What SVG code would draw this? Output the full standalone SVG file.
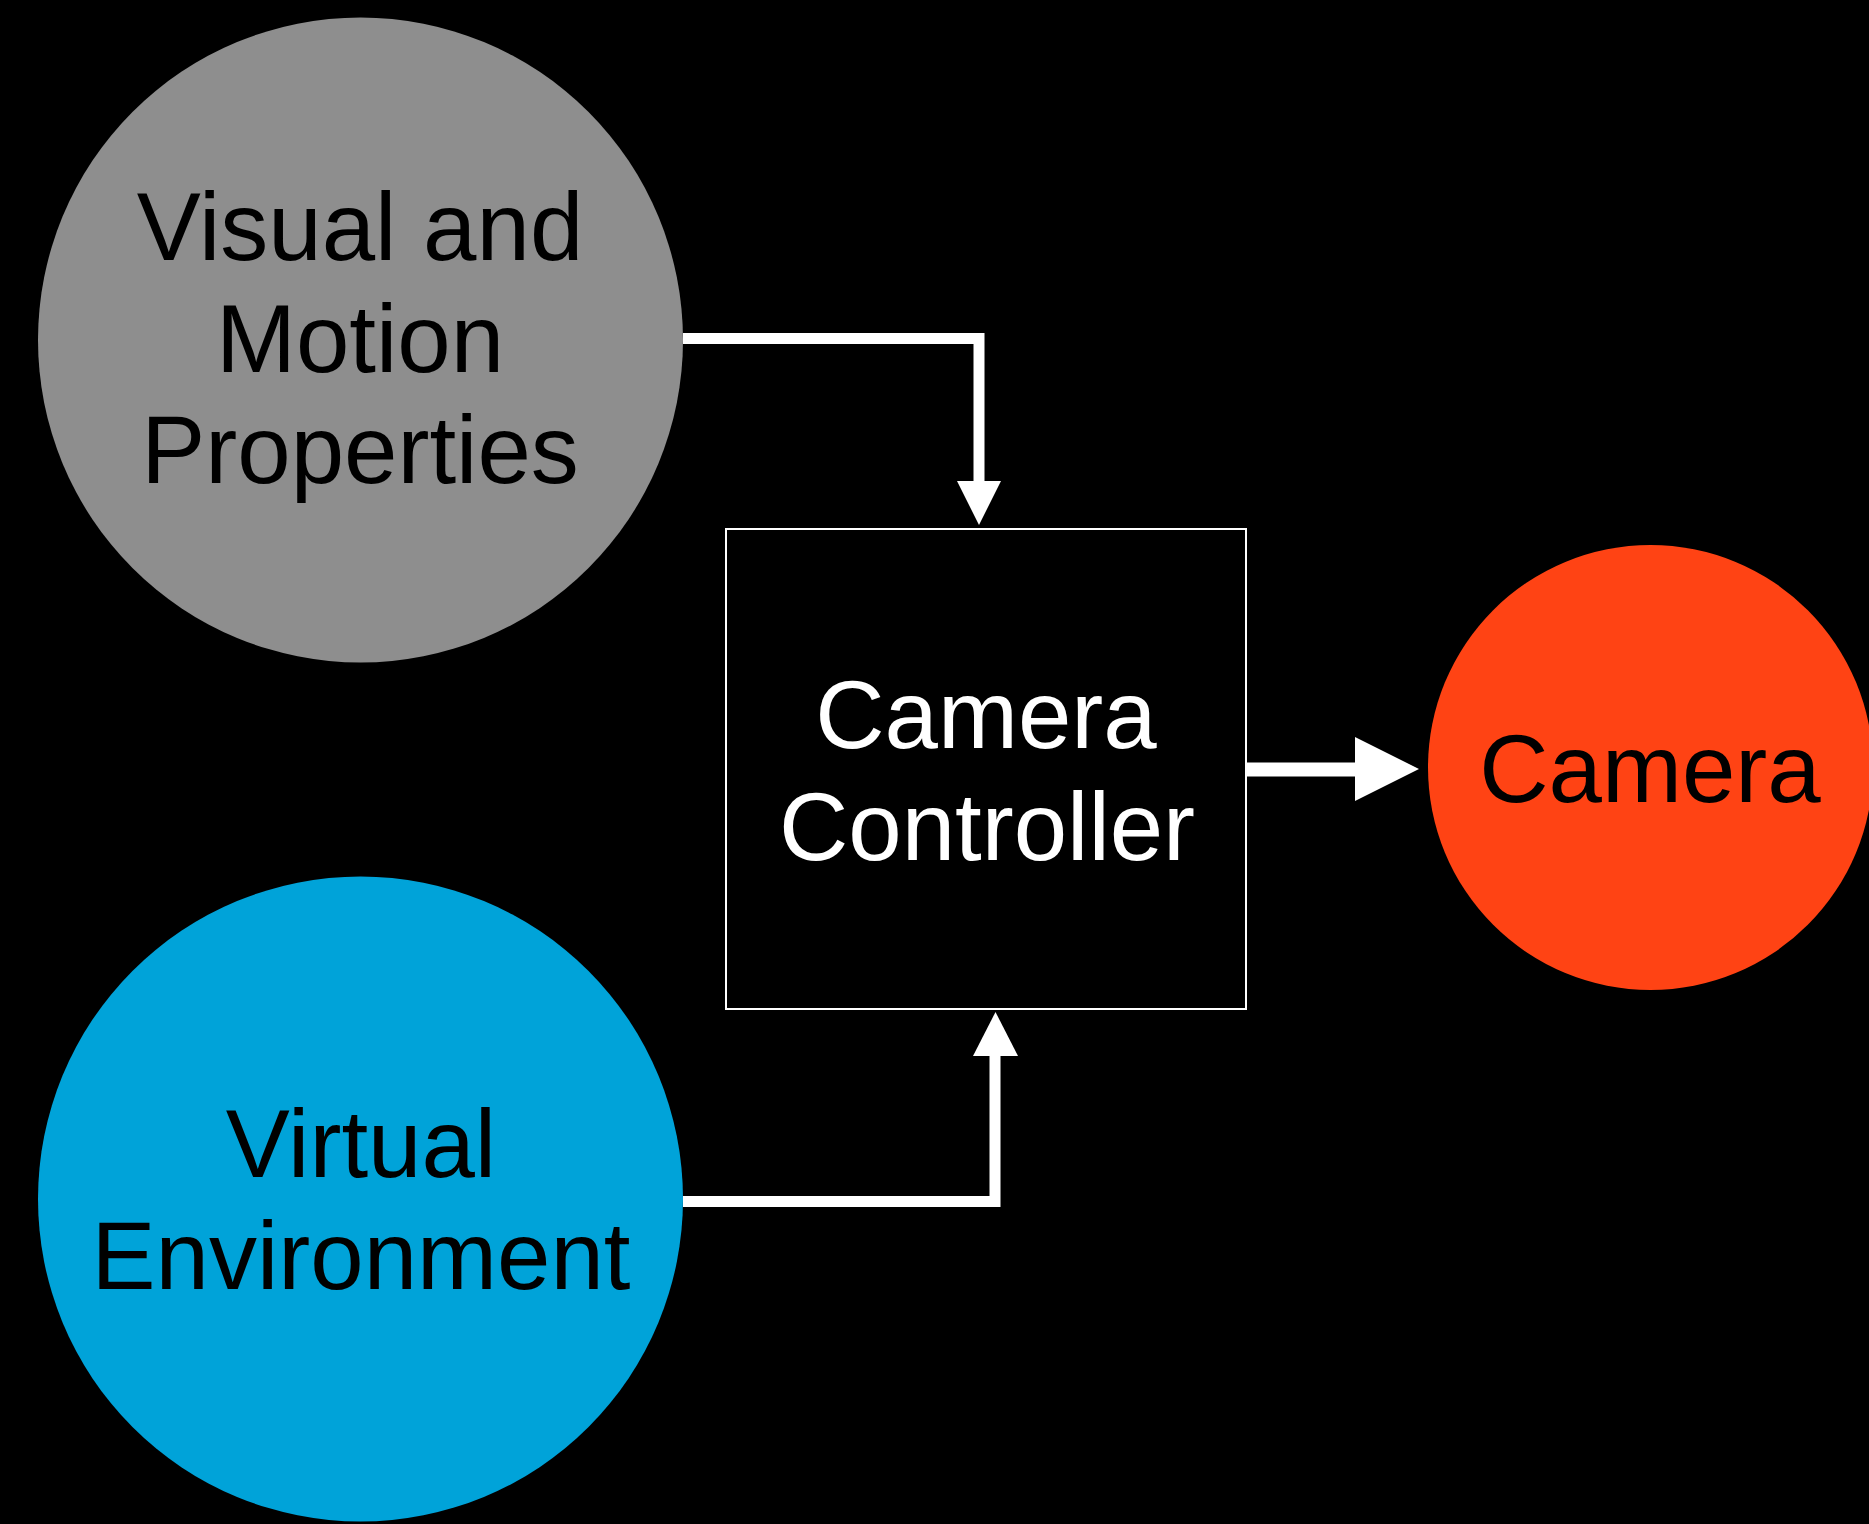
<svg xmlns="http://www.w3.org/2000/svg" width="1869" height="1524" viewBox="0 0 1869 1524">
  <style>
    .lbl { font-family: "Liberation Sans", Arial, sans-serif; font-size: 96px; text-anchor: middle; }
    .dark { fill: #000000; }
    .light { fill: #ffffff; }
    .wire { fill: none; stroke: #ffffff; stroke-linejoin: miter; stroke-linecap: butt; }
    .head { fill: #ffffff; stroke: none; }
  </style>
  <rect x="0" y="0" width="1869" height="1524" fill="#000000"/>

  <g id="connectors">
    <polyline class="wire" stroke-width="11" points="683,338.5 979,338.5 979,482"/>
    <polygon class="head" points="957,481 1001,481 979,525"/>
    <line class="wire" stroke-width="14" x1="1246" y1="769.5" x2="1356" y2="769.5"/>
    <polygon class="head" points="1355,737 1355,801 1419,769"/>
    <polyline class="wire" stroke-width="11" points="683,1201.5 995,1201.5 995,1055"/>
    <polygon class="head" points="973,1056 1018,1056 995.5,1012"/>
  </g>

  <g id="node-visual-motion">
    <circle cx="360.5" cy="340" r="322.5" fill="#8E8E8E"/>
    <text class="lbl dark" x="360" y="260">Visual and</text>
    <text class="lbl dark" x="360" y="372">Motion</text>
    <text class="lbl dark" x="360" y="483">Properties</text>
  </g>

  <g id="node-virtual-environment">
    <circle cx="360.5" cy="1199" r="322.5" fill="#00A3D9"/>
    <text class="lbl dark" x="361" y="1177">Virtual</text>
    <text class="lbl dark" x="361" y="1289">Environment</text>
  </g>

  <g id="node-camera-controller">
    <rect x="726" y="529" width="520" height="480" fill="#000000" stroke="#ffffff" stroke-width="2"/>
    <text class="lbl light" x="986" y="748">Camera</text>
    <text class="lbl light" x="987" y="860">Controller</text>
  </g>

  <g id="node-camera">
    <circle cx="1650.5" cy="767.5" r="222.5" fill="#FF4314"/>
    <text class="lbl dark" x="1650" y="802">Camera</text>
  </g>
</svg>
